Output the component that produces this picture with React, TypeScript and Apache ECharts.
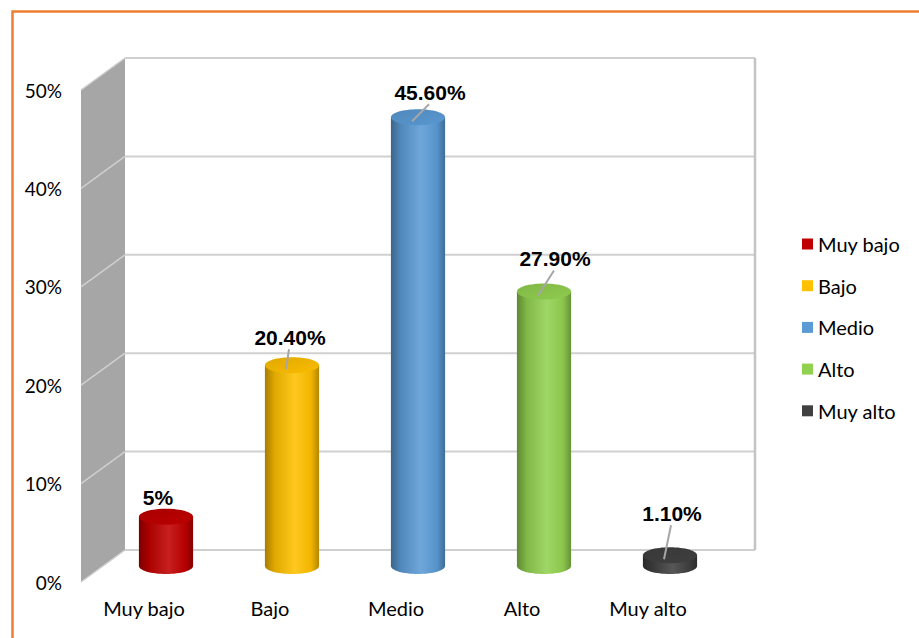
import React, { useEffect, useRef } from "react";
import * as echarts from "echarts";

const categories = ["Muy bajo", "Bajo", "Medio", "Alto", "Muy alto"];
const values = [5, 20.4, 45.6, 27.9, 1.1];
const valueLabels = ["5%", "20.40%", "45.60%", "27.90%", "1.10%"];
const colors = ["#c00000", "#ffc000", "#5b9bd5", "#92d050", "#404040"];
const yTicks = [0, 10, 20, 30, 40, 50];

// label nudges from the top of each cylinder: [dx, dy, showLeader]
const labelNudge: [number, number, boolean][] = [
  [-8, -21, false],
  [-2, -30, true],
  [12, -27, true],
  [11, -35, true],
  [2, -44, true],
];

const DX = 44;
const DY = -32;
const FONT = "Lato, 'Open Sans', sans-serif";

function mix(hex: string, target: string, t: number): string {
  const a = parseInt(hex.slice(1), 16);
  const b = parseInt(target.slice(1), 16);
  const ch = (v: number, s: number) => (v >> s) & 255;
  const r = Math.round(ch(a, 16) + (ch(b, 16) - ch(a, 16)) * t);
  const g = Math.round(ch(a, 8) + (ch(b, 8) - ch(a, 8)) * t);
  const bl = Math.round(ch(a, 0) + (ch(b, 0) - ch(a, 0)) * t);
  return "rgb(" + r + "," + g + "," + bl + ")";
}

function renderWalls(params: any, api: any) {
  const band = api.size([1, 0])[0];
  const left = api.coord([0, 0])[0] - band / 2;
  const right = api.coord([categories.length - 1, 0])[0] + band / 2;
  const y0 = api.coord([0, yTicks[0]])[1];
  const yT = api.coord([0, yTicks[yTicks.length - 1]])[1];
  const children: any[] = [];
  children.push({
    type: "polygon",
    shape: { points: [[left, yT], [left + DX, yT + DY], [left + DX, y0 + DY], [left, y0]] },
    style: { fill: "#a6a6a6" },
  });
  yTicks.forEach((t) => {
    const y = api.coord([0, t])[1];
    children.push({
      type: "line",
      shape: { x1: left, y1: y, x2: left + DX, y2: y + DY },
      style: { stroke: "#cfcfcf", lineWidth: 1.5 },
    });
    children.push({
      type: "line",
      shape: { x1: left + DX, y1: y + DY, x2: right + DX, y2: y + DY },
      style: { stroke: "#d0d0d0", lineWidth: 2 },
    });
  });
  children.push({
    type: "line",
    shape: { x1: right + DX, y1: yT + DY, x2: right + DX, y2: y0 + DY },
    style: { stroke: "#c4c4c4", lineWidth: 2.5 },
  });
  return { type: "group", children };
}

function renderCylinder(params: any, api: any) {
  const idx = api.value(0);
  const v = api.value(1);
  const p = api.coord([idx, v]);
  const p0 = api.coord([idx, 0]);
  const band = api.size([1, 0])[0];
  const cx = p[0] + DX / 2;
  const top = p[1] + DY / 2;
  const bot = p0[1] + DY / 2;
  const rx = band * 0.215;
  const ry = 8;
  const c = colors[idx];
  const body = new echarts.graphic.LinearGradient(0, 0, 1, 0, [
    { offset: 0, color: mix(c, "#000000", 0.35) },
    { offset: 0.18, color: mix(c, "#000000", 0.12) },
    { offset: 0.55, color: mix(c, "#ffffff", 0.12) },
    { offset: 0.85, color: mix(c, "#000000", 0.05) },
    { offset: 1, color: mix(c, "#000000", 0.3) },
  ]);
  const topFill = new echarts.graphic.LinearGradient(0, 0, 1, 1, [
    { offset: 0, color: mix(c, "#000000", 0.12) },
    { offset: 1, color: mix(c, "#000000", 0.02) },
  ]);
  const [ndx, ndy, leader] = labelNudge[idx];
  const lx = cx + ndx;
  const ly = top + ndy;
  const children: any[] = [
    { type: "ellipse", shape: { cx, cy: bot, rx, ry }, style: { fill: body } },
    { type: "rect", shape: { x: cx - rx, y: top, width: rx * 2, height: bot - top }, style: { fill: body } },
    { type: "ellipse", shape: { cx, cy: top, rx, ry }, style: { fill: topFill } },
  ];
  if (leader) {
    children.push({
      type: "line",
      shape: { x1: lx - 1, y1: ly + 14, x2: cx - 6, y2: top + 4 },
      style: { stroke: "#a6a6a6", lineWidth: 2 },
    });
  }
  children.push({
    type: "text",
    x: lx,
    y: ly + 2,
    style: {
      text: valueLabels[idx],
      align: "center",
      verticalAlign: "middle",
      fontFamily: "'Liberation Sans', Arial, sans-serif",
      fontWeight: "bold",
      fontSize: 21,
      fill: "#000",
    },
  });
  return { type: "group", children };
}

export default function App() {
  const ref = useRef<HTMLDivElement>(null);
  useEffect(() => {
    if (!ref.current) return;
    const chart = echarts.init(ref.current, null, { renderer: "svg" });
    const series: any[] = [
      {
        type: "custom",
        name: "__walls",
        renderItem: renderWalls,
        data: [[0, 0]],
        silent: true,
        z: 1,
      },
    ];
    categories.forEach((cat, i) => {
      series.push({
        type: "custom",
        name: cat,
        renderItem: renderCylinder,
        data: [[i, values[i]]],
        encode: { x: 0, y: 1 },
        itemStyle: { color: colors[i] },
        silent: true,
        z: 2,
      });
    });
    chart.setOption({
      animation: false,
      backgroundColor: "#ffffff",
      graphic: [
        {
          type: "rect",
          shape: { x: 12.5, y: 11.5, width: 1200, height: 1200 },
          style: { fill: "none", stroke: "#ed7d31", lineWidth: 2.5 },
          silent: true,
        },
      ],
      grid: { left: 81, top: 90, width: 630, height: 492 },
      xAxis: {
        type: "category",
        data: categories,
        axisLine: { show: false },
        axisTick: { show: false },
        axisLabel: { margin: 16, fontSize: 20, fontFamily: FONT, color: "#000" },
      },
      yAxis: {
        type: "value",
        min: 0,
        max: 50,
        interval: 10,
        splitLine: { show: false },
        axisLine: { show: false },
        axisTick: { show: false },
        axisLabel: { formatter: "{value}%", margin: 19, fontSize: 19, fontFamily: FONT, color: "#000" },
      },
      legend: {
        orient: "vertical",
        left: 802,
        top: 234,
        padding: 0,
        icon: "rect",
        itemWidth: 11,
        itemHeight: 11,
        itemGap: 21.7,
        data: categories.map((c, i) => ({ name: c, itemStyle: { color: colors[i] } })),
        textStyle: { fontSize: 20, lineHeight: 20, fontFamily: FONT, color: "#000" },
      },
      series,
    });
    return () => chart.dispose();
  }, []);
  return <div ref={ref} style={{ position: "absolute", left: 0, top: 0, width: 919, height: 638 }} />;
}
